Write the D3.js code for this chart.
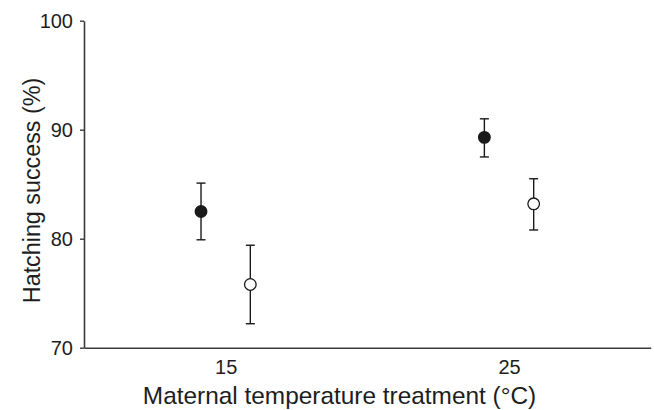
<!DOCTYPE html>
<html>
<head>
<meta charset="utf-8">
<script src="https://cdn.jsdelivr.net/npm/d3@7"></script>
<style>
  body { margin: 0; background: #fff; }
  text { font-family: "Liberation Sans", Arial, sans-serif; fill: #1e1e1e; }
</style>
</head>
<body>
<script>
const temps = [15, 25];
const tickValues = [70, 80, 90, 100];

// filled circles
const filledMean = [82.5, 89.3];
const filledUpper = [85.1, 91.0];
const filledLower = [79.9, 87.5];

// open circles
const openMean = [75.8, 83.2];
const openUpper = [79.4, 85.5];
const openLower = [72.2, 80.8];

const width = 654, height = 410;
const dodge = 0.87;

const svg = d3.select("body").append("svg")
  .attr("width", width)
  .attr("height", height);

const x = d3.scaleLinear().domain([10, 30]).range([84, 650.7]);
const y = d3.scaleLinear().domain([70, 100]).range([347.7, 20.7]);

const axisColor = "#3a3a3a";

// y axis
const yAxis = svg.append("g")
  .attr("transform", `translate(${x(10)},0)`)
  .call(d3.axisLeft(y).tickValues(tickValues).tickSize(4).tickPadding(7).tickSizeOuter(0));
yAxis.select(".domain").attr("stroke", axisColor).attr("stroke-width", 1.6);
yAxis.selectAll(".tick line").attr("stroke", axisColor).attr("stroke-width", 1.4);
yAxis.selectAll(".tick text")
  .attr("font-size", 20)
  .attr("font-family", "Liberation Sans, Arial, sans-serif")
  .attr("fill", "#1e1e1e");

// x axis
const xAxis = svg.append("g")
  .attr("transform", `translate(0,${y(70)})`)
  .call(d3.axisBottom(x).tickValues(temps).tickSize(0).tickPadding(12).tickSizeOuter(0));
xAxis.select(".domain").attr("stroke", axisColor).attr("stroke-width", 1.6);
xAxis.selectAll(".tick text")
  .attr("font-size", 20)
  .attr("font-family", "Liberation Sans, Arial, sans-serif")
  .attr("fill", "#1e1e1e");

// axis titles
svg.append("text")
  .attr("transform", `translate(39.5,190.5) rotate(-90)`)
  .attr("text-anchor", "middle")
  .attr("font-size", 23.3)
  .text("Hatching success (%)");

svg.append("text")
  .attr("x", 339.5)
  .attr("y", 404)
  .attr("text-anchor", "middle")
  .attr("font-size", 24.4)
  .text("Maternal temperature treatment (°C)");

function drawGroup(means, upper, lower, offset, fill) {
  const data = temps.map((t, i) => ({ t: t + offset, m: means[i], hi: upper[i], lo: lower[i] }));
  const g = svg.append("g");
  const cap = 4.5;

  g.selectAll("line.bar").data(data).enter().append("line")
    .attr("x1", d => x(d.t)).attr("x2", d => x(d.t))
    .attr("y1", d => y(d.hi)).attr("y2", d => y(d.lo))
    .attr("stroke", "#1a1a1a").attr("stroke-width", 1.4);

  g.selectAll("line.top").data(data).enter().append("line")
    .attr("x1", d => x(d.t) - cap).attr("x2", d => x(d.t) + cap)
    .attr("y1", d => y(d.hi)).attr("y2", d => y(d.hi))
    .attr("stroke", "#1a1a1a").attr("stroke-width", 1.4);

  g.selectAll("line.bottom").data(data).enter().append("line")
    .attr("x1", d => x(d.t) - cap).attr("x2", d => x(d.t) + cap)
    .attr("y1", d => y(d.lo)).attr("y2", d => y(d.lo))
    .attr("stroke", "#1a1a1a").attr("stroke-width", 1.4);

  g.selectAll("circle").data(data).enter().append("circle")
    .attr("cx", d => x(d.t))
    .attr("cy", d => y(d.m))
    .attr("r", 5.8)
    .attr("fill", fill)
    .attr("stroke", "#1a1a1a")
    .attr("stroke-width", 1.3);
}

drawGroup(filledMean, filledUpper, filledLower, -dodge, "#1a1a1a");
drawGroup(openMean, openUpper, openLower, dodge, "#fff");
</script>
</body>
</html>
